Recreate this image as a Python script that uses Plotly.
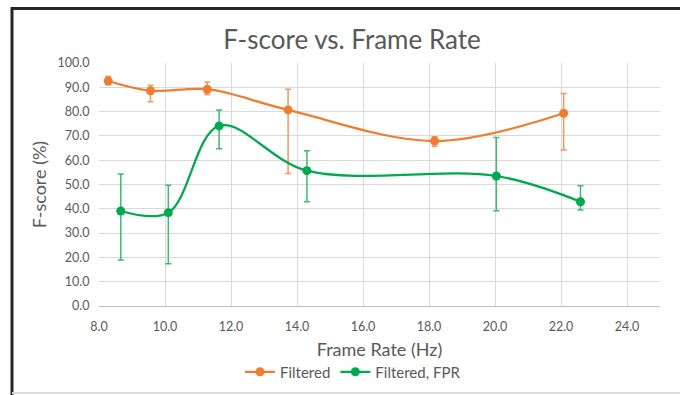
import plotly.graph_objects as go

# Data
filtered_x = [8.28, 9.56, 11.28, 13.73, 18.17, 22.08]
filtered_y = [92.6, 88.6, 89.2, 80.7, 67.9, 79.3]
filtered_err_plus = [1.8, 2.2, 3.0, 8.5, 1.8, 8.1]
filtered_err_minus = [1.6, 4.5, 2.2, 26.2, 2.2, 15.1]

fpr_x = [8.66, 10.10, 11.64, 14.30, 20.04, 22.59]
fpr_y = [39.1, 38.4, 74.1, 55.7, 53.5, 42.9]
fpr_err_plus = [15.2, 11.3, 6.6, 8.2, 15.8, 6.6]
fpr_err_minus = [20.2, 21.0, 9.4, 12.8, 14.3, 3.4]

x_ticks = [8, 10, 12, 14, 16, 18, 20, 22, 24]
y_ticks = [0, 10, 20, 30, 40, 50, 60, 70, 80, 90, 100]

ORANGE = "#ED7D31"
GREEN = "#00A84F"
FONT = "Lato, 'Open Sans', sans-serif"
TXT = "#595959"

fig = go.Figure()
fig.add_trace(go.Scatter(
    x=filtered_x, y=filtered_y, name="Filtered",
    mode="lines+markers",
    line=dict(color=ORANGE, width=2.25, shape="spline", smoothing=1.0),
    marker=dict(color=ORANGE, size=9),
    error_y=dict(type="data", symmetric=False, array=filtered_err_plus,
                 arrayminus=filtered_err_minus, color="#F0975C",
                 thickness=1.5, width=3),
))
fig.add_trace(go.Scatter(
    x=fpr_x, y=fpr_y, name="Filtered, FPR",
    mode="lines+markers",
    line=dict(color=GREEN, width=2.25, shape="spline", smoothing=1.0),
    marker=dict(color=GREEN, size=9),
    error_y=dict(type="data", symmetric=False, array=fpr_err_plus,
                 arrayminus=fpr_err_minus, color="#3DBB6E",
                 thickness=1.5, width=3),
))

L, R, T, B = 99, 20, 63, 89
PW, PH = 680 - L - R, 395 - T - B

def px(xp):
    return (xp - L) / PW

def py(yp):
    return (395 - B - yp) / PH

fig.update_layout(
    width=680, height=395,
    margin=dict(l=L, r=R, t=T, b=B, autoexpand=False),
    paper_bgcolor="white", plot_bgcolor="white",
    font=dict(family=FONT, color=TXT, size=12),
    title=dict(text="F-score vs. Frame Rate", x=352 / 680, xanchor="center",
               xref="container", yref="container",
               y=1 - 40 / 395, yanchor="middle",
               font=dict(size=26, color=TXT, family=FONT)),
    showlegend=True,
    legend=dict(orientation="h", x=px(353), xanchor="center",
                y=py(372), yanchor="middle",
                font=dict(size=15, color=TXT), bgcolor="rgba(0,0,0,0)",
                itemwidth=30, tracegroupgap=0),
    xaxis=dict(range=[8, 25], tickvals=x_ticks, tickformat=".1f",
               automargin=False,
               showgrid=True, gridcolor="#D9D9D9", gridwidth=1,
               showline=True, linecolor="#BFBFBF", linewidth=1,
               zeroline=False, ticks="outside", ticklen=9,
               tickcolor="rgba(0,0,0,0)",
               tickfont=dict(size=12.5, color=TXT),
               title=dict(text="Frame Rate (Hz)", font=dict(size=18, color=TXT),
                          standoff=10)),
    yaxis=dict(range=[0, 100], tickvals=y_ticks, tickformat=".1f",
               automargin=False,
               showgrid=True, gridcolor="#D9D9D9", gridwidth=1,
               showline=False, zeroline=False, ticks="outside", ticklen=6,
               tickcolor="rgba(0,0,0,0)",
               tickfont=dict(size=12.5, color=TXT),
               title=dict(text="F-score (%)", font=dict(size=18, color=TXT),
                          standoff=6)),
    shapes=[
        dict(type="line", xref="paper", yref="paper",
             x0=px(11), x1=px(690), y0=py(8.5), y1=py(8.5),
             line=dict(color="#262626", width=3)),
        dict(type="line", xref="paper", yref="paper",
             x0=px(12), x1=px(12), y0=py(7), y1=py(400),
             line=dict(color="#262626", width=3)),
        dict(type="line", xref="paper", yref="paper",
             x0=px(12), x1=px(690), y0=py(393), y1=py(393),
             line=dict(color="#DDDDDD", width=2)),
    ],
)

fig.write_html(
    "out.html",
    config={"displayModeBar": False},
    post_script="document.body.style.margin='0';document.body.style.overflow='hidden';",
)
